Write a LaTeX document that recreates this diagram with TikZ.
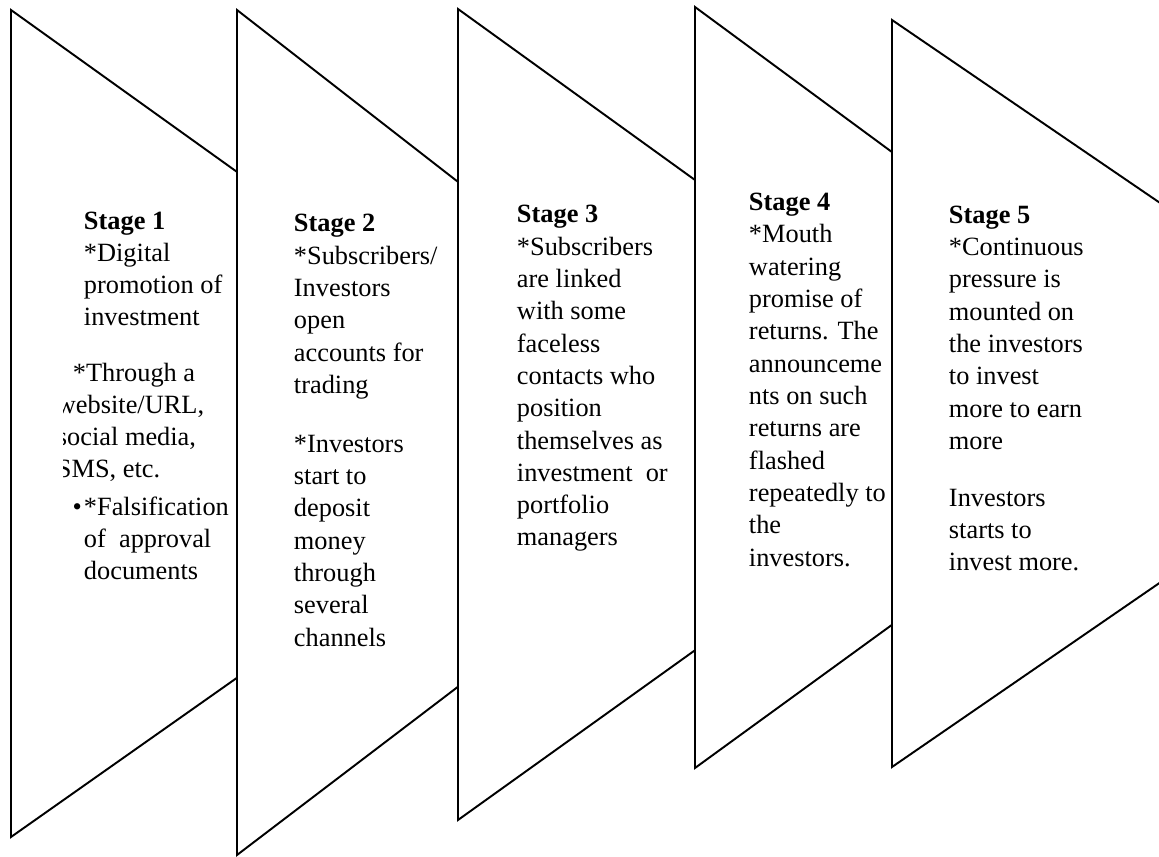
\documentclass[tikz,border=0pt]{standalone}
\usepackage{fontspec}
\setmainfont{Liberation Serif}
\begin{document}
\begin{tikzpicture}[x=0.02cm, y=-0.02cm, line width=1.1pt,
    stagebox/.style={draw=black, fill=white, line join=miter},
    stagetext/.style={anchor=base west, align=left, inner sep=0pt,
        font=\fontsize{15}{18.4}\selectfont}]
    % Frame
    \useasboundingbox (0,0) rectangle (1159,857);
    \clip (0,0) rectangle (1159,857);

    % Stage arrows, each one laid over the tip of the one before
    \foreach \xl/\yt/\yb/\xa/\ya in {11/10/837/593/427, 237/10/855/786/437,
        458/9/820/1022/416, 695/7/768/1215/390, 892/20/767/1437/392} {
        \filldraw[stagebox] (\xl,\yt) -- (\xa,\ya) -- (\xl,\yb) -- cycle;
    }

    % Texts are placed by the baseline of their last line
    % Stage 1
    \node[stagetext] (stage1) at (83,326)
        {\textbf{Stage 1}\\{*}Digital\\promotion of\\investment};
    \begin{scope}
        \clip (63,340) rectangle (237,500);
        \node[stagetext] (stage1b) at (56,478)
            {\hspace{0.32cm}{*}Through a\\website/URL,\\social media,\\SMS, etc.};
    \end{scope}
    \node[stagetext] (stage1c) at (83,580)
        {\llap{\textbullet\hspace{0.04cm}}{*}Falsification\\of\ \ approval\\documents};

    % Stage 2
    \node[stagetext] (stage2) at (293,646)
        {\textbf{Stage 2}\\{*}Subscribers/\\Investors\\open\\accounts for\\trading\\[15pt]%
         {*}Investors\\start to\\deposit\\money\\through\\several\\channels};

    % Stage 3
    \node[stagetext] (stage3) at (516,546)
        {\textbf{Stage 3}\\{*}Subscribers\\are linked\\with some\\faceless\\contacts who\\%
         position\\themselves as\\investment\ \ or\\portfolio\\managers};

    % Stage 4
    \node[stagetext] (stage4) at (748,566)
        {\textbf{Stage 4}\\{*}Mouth\\watering\\promise of\\returns. The\\announceme\\%
         nts on such\\returns are\\flashed\\repeatedly to\\the\\investors.};

    % Stage 5
    \node[stagetext] (stage5) at (948,571)
        {\textbf{Stage 5}\\{*}Continuous\\pressure is\\mounted on\\the investors\\to invest\\%
         more to earn\\more\\[14pt]Investors\\starts to\\invest more.};
\end{tikzpicture}
\end{document}
